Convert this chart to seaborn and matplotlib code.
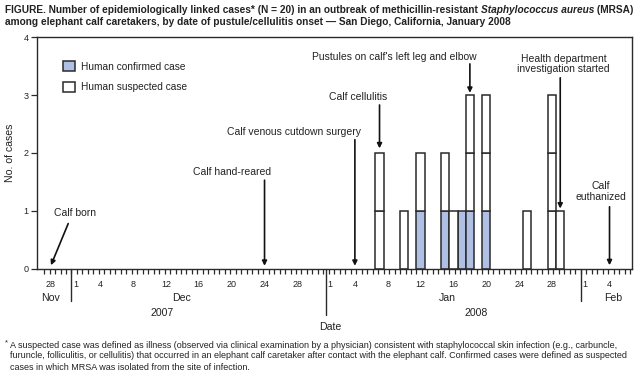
import numpy as np
import pandas as pd
import matplotlib
matplotlib.use("Agg")
import matplotlib.pyplot as plt
import seaborn as sns
from matplotlib.patches import Patch

# cases by date of onset, January 2008
case_days = [7, 10, 12, 15, 16, 17, 18, 20, 25, 28, 29]
confirmed = [0, 0, 1, 1, 0, 1, 1, 1, 0, 0, 0]
suspected = [2, 1, 1, 1, 1, 0, 2, 2, 1, 3, 1]

# x axis tick labels (month, day)
tick_months = ["Nov", "Dec", "Dec", "Dec", "Dec", "Dec", "Dec", "Dec", "Dec",
               "Jan", "Jan", "Jan", "Jan", "Jan", "Jan", "Jan", "Jan", "Feb", "Feb"]
tick_days = [28, 1, 4, 8, 12, 16, 20, 24, 28, 1, 4, 8, 12, 16, 20, 24, 28, 1, 4]

# events on the calf
event_labels = ["Calf born", "Calf hand-reared", "Calf venous cutdown surgery",
                "Calf cellulitis", "Pustules on calf's left leg and elbow",
                "Health department\ninvestigation started", "Calf\neuthanized"]
event_months = ["Nov", "Dec", "Jan", "Jan", "Jan", "Jan", "Feb"]
event_days = [28, 24, 4, 7, 18, 29, 4]

month_start = {"Nov": -61, "Dec": -31, "Jan": 0, "Feb": 31}


def pos(month, day):
    # centre of the day, Jan 1 starts at 0
    return month_start[month] + day - 0.5


BLUE = "#b0c0e4"
EDGE = "#2a2a2a"
TXT = "#222222"

rows = []
for d, c, s in zip(case_days, confirmed, suspected):
    for k in range(c):
        rows.append({"x": pos("Jan", d), "slot": f"{k + 1}c"})
    for k in range(s):
        rows.append({"x": pos("Jan", d), "slot": f"{c + k + 1}s"})
df = pd.DataFrame(rows)

sns.set_style("ticks")
plt.rcParams["font.family"] = ["Liberation Sans", "DejaVu Sans"]

fig = plt.figure(figsize=(6.41, 3.77), dpi=100)
ax = fig.add_axes([37 / 641, 1 - 268.7 / 377, 594.7 / 641, 231.4 / 377])

pal = {"1c": BLUE, "1s": "white", "2s": "white", "3s": "white"}
sns.histplot(data=df, x="x", hue="slot", hue_order=["3s", "2s", "1s", "1c"],
             multiple="stack", bins=np.arange(6, 30), palette=pal, alpha=1,
             edgecolor=EDGE, linewidth=1.1, legend=False, ax=ax)
for p in list(ax.patches):
    if p.get_height() == 0:
        p.remove()

ax.set_xlim(-35.2, 37.2)
ax.set_ylim(0, 4)
ax.set_yticks([0, 1, 2, 3, 4])
ax.set_ylabel("No. of cases", fontsize=7.6, color=TXT, labelpad=6)
ax.set_xlabel("")
for sp in ax.spines.values():
    sp.set_visible(True)
    sp.set_linewidth(1.0)
    sp.set_color(EDGE)
ax.tick_params(axis="y", length=4, width=0.9, color=EDGE, labelsize=6.5,
               labelcolor=TXT, pad=2)

xt = [pos(m, d) for m, d in zip(tick_months, tick_days)]
ax.set_xticks(xt)
ax.set_xticklabels([str(d) for d in tick_days])
ax.tick_params(axis="x", which="major", length=0, labelsize=6.5, labelcolor=TXT, pad=8)
ax.set_xticks(np.arange(-35 + 2 / 3, 37, 2 / 3), minor=True)
ax.tick_params(axis="x", which="minor", length=3.5, width=0.9, color=EDGE)

# month separators below the axis
for x, drop in [(-31, 0.55), (0, 0.80), (31, 0.55)]:
    ax.plot([x, x], [0, -drop], color=EDGE, lw=1.0, clip_on=False)

tr = ax.get_xaxis_transform()
for label, x in [("Nov", -33.6), ("Dec", -17.6), ("Jan", 14.8), ("Feb", 35.0)]:
    ax.text(x, -0.125, label, transform=tr, ha="center", va="center",
            fontsize=7.6, color=TXT)
for label, x in [("2007", -20.0), ("2008", 18.2)]:
    ax.text(x, -0.19, label, transform=tr, ha="center", va="center",
            fontsize=7.6, color=TXT)
ax.text(0.5, -0.25, "Date", transform=tr, ha="center", va="center",
        fontsize=7.6, color=TXT)

# event arrows and labels
text_xy = [(-30.6, 0.96), (-11.4, 1.67), (-3.9, 2.37), (3.9, 2.97),
           (8.3, 3.66), (28.9, 3.54), (33.4, 1.33)]
arrow_tail = [(-31.4, 0.78), (None, 1.53), (None, 2.23), (None, 2.83),
              (None, 3.54), (None, 3.30), (None, 1.07)]
arrow_tip_y = [0.06, 0.05, 0.05, 2.08, 3.04, 1.04, 0.06]
for i, label in enumerate(event_labels):
    xc = pos(event_months[i], event_days[i])
    tx, ty = text_xy[i]
    ax.text(tx, ty, label, ha="center", va="center", fontsize=7.5,
            color=TXT, linespacing=1.1)
    ax_, ay_ = arrow_tail[i]
    if ax_ is None:
        ax_ = xc
    ax.annotate("", xy=(xc, arrow_tip_y[i]), xytext=(ax_, ay_),
                arrowprops=dict(arrowstyle="-|>", color="#111111", lw=1.2,
                                mutation_scale=7, shrinkA=0, shrinkB=0))

handles = [Patch(facecolor=BLUE, edgecolor=EDGE, lw=1.1, label="Human confirmed case"),
           Patch(facecolor="white", edgecolor=EDGE, lw=1.1, label="Human suspected case")]
leg = ax.legend(handles=handles, loc="upper left", bbox_to_anchor=(0.044, 0.897),
                frameon=False, fontsize=7.3, handlelength=1.15, handleheight=1.15,
                handletextpad=0.6, labelspacing=1.0, borderpad=0, borderaxespad=0)
for t in leg.get_texts():
    t.set_color(TXT)


def rich_line(x, y, parts, size):
    t = fig.text(x, y, parts[0][0], fontsize=size, fontweight="bold",
                 fontstyle=parts[0][1], va="bottom", ha="left", color=TXT)
    for s, style in parts[1:]:
        t = ax.annotate(s, xy=(1, 0), xycoords=t, va="bottom", ha="left",
                        fontsize=size, fontweight="bold", fontstyle=style,
                        color=TXT, annotation_clip=False)


rich_line(5 / 641, 1 - 15 / 377,
          [("FIGURE. Number of epidemiologically linked cases* (N = 20) in an outbreak of methicillin-resistant ", "normal"),
           ("Staphylococcus aureus", "italic"),
           (" (MRSA)", "normal")], 7.3)
rich_line(5 / 641, 1 - 27 / 377,
          [("among elephant calf caretakers, by date of pustule/cellulitis onset \u2014 San Diego, California, January 2008", "normal")], 7.3)

foot = ["A suspected case was defined as illness (observed via clinical examination by a physician) consistent with staphylococcal skin infection (e.g., carbuncle,",
        "furuncle, folliculitis, or cellulitis) that occurred in an elephant calf caretaker after contact with the elephant calf. Confirmed cases were defined as suspected",
        "cases in which MRSA was isolated from the site of infection."]
fig.text(5 / 641, 1 - 343 / 377, "*", fontsize=5.5, color=TXT, va="center")
for i, line in enumerate(foot):
    fig.text(10 / 641, 1 - (345 + 11 * i) / 377, line, fontsize=6.5,
             color=TXT, va="center")

fig.savefig("out.png", dpi=100)
